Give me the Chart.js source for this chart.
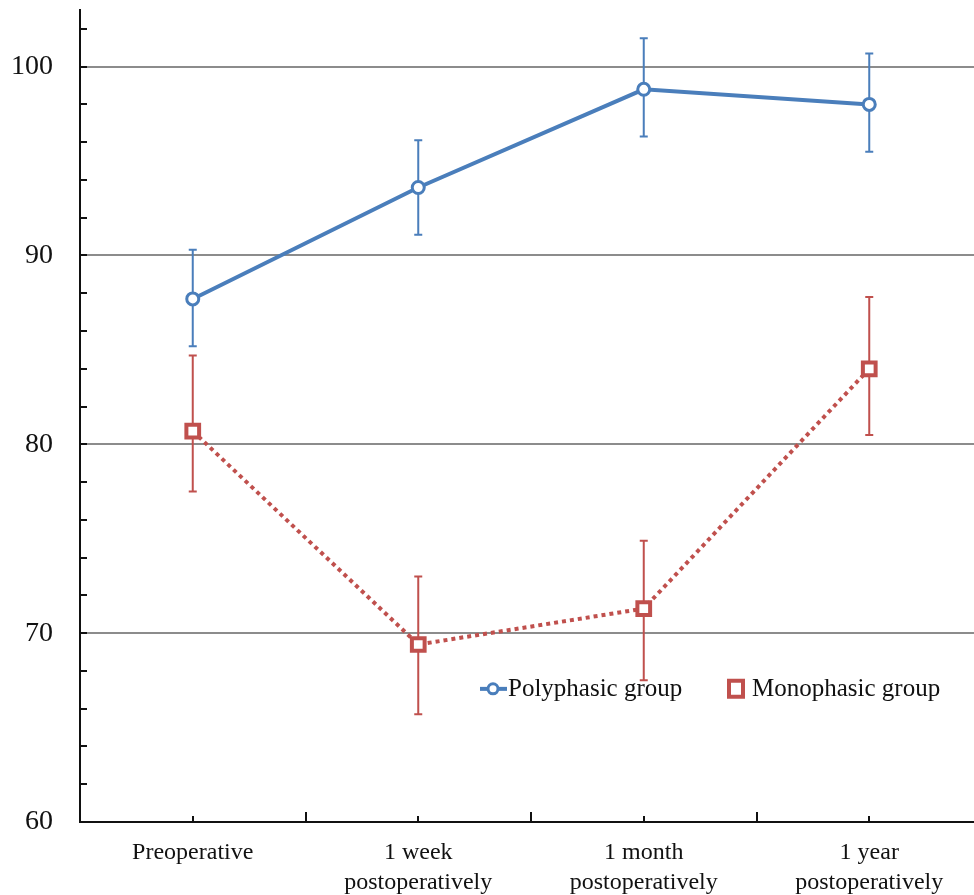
<!DOCTYPE html>
<html lang="en">
<head>
    <meta charset="UTF-8">
    <title>Polyphasic vs Monophasic group</title>
    <script src="https://cdn.jsdelivr.net/npm/chart.js"></script>
    <style>
        html, body { margin: 0; padding: 0; background: #fff; overflow: hidden; }
        #wrap { width: 995px; height: 898px; margin-top: -3px; }
    </style>
</head>
<body>
    <div id="wrap"><canvas id="chart" width="995" height="898"></canvas></div>
    <script>
        const categories = ['Preoperative', ['1 week', 'postoperatively'], ['1 month', 'postoperatively'], ['1 year', 'postoperatively']];
        const yTicks = [60, 70, 80, 90, 100];

        const polyValues = [87.7, 93.6, 98.8, 98.0];
        const polyLow = [85.2, 91.1, 96.3, 95.5];
        const polyHigh = [90.3, 96.1, 101.5, 100.7];

        const monoValues = [80.7, 69.4, 71.3, 84.0];
        const monoLow = [77.5, 65.7, 67.5, 80.5];
        const monoHigh = [84.7, 73.0, 74.9, 87.8];

        const blue = '#4a7ebb';
        const red = '#c0504d';
        const serif = "'Liberation Serif', 'DejaVu Serif', serif";

        // error bars, drawn under the markers
        const errorBars = {
            id: 'errorBars',
            beforeDatasetsDraw(chart) {
                const ctx = chart.ctx;
                const x = chart.scales.x, y = chart.scales.y;
                const sets = [[polyLow, polyHigh, blue], [monoLow, monoHigh, red]];
                ctx.save();
                ctx.lineWidth = 2;
                sets.forEach(([lo, hi, col]) => {
                    ctx.strokeStyle = col;
                    lo.forEach((v, i) => {
                        const px = x.getPixelForValue(i);
                        const y1 = y.getPixelForValue(v), y2 = y.getPixelForValue(hi[i]);
                        ctx.beginPath();
                        ctx.moveTo(px, y1); ctx.lineTo(px, y2);
                        ctx.moveTo(px - 4, y1); ctx.lineTo(px + 4, y1);
                        ctx.moveTo(px - 4, y2); ctx.lineTo(px + 4, y2);
                        ctx.stroke();
                    });
                });
                ctx.restore();
            }
        };

        // inner tick marks on both axes
        const innerTicks = {
            id: 'innerTicks',
            afterDatasetsDraw(chart) {
                const ctx = chart.ctx;
                const x = chart.scales.x, y = chart.scales.y;
                const area = chart.chartArea;
                ctx.save();
                ctx.strokeStyle = '#111';
                ctx.lineWidth = 2;
                ctx.beginPath();
                for (let v = 62; v <= 102; v += 2) {
                    const py = Math.round(y.getPixelForValue(v));
                    ctx.moveTo(area.left, py); ctx.lineTo(area.left + 7, py);
                }
                categories.forEach((c, i) => {
                    const px = Math.round(x.getPixelForValue(i));
                    ctx.moveTo(px, area.bottom); ctx.lineTo(px, area.bottom - 6);
                    if (i > 0) {
                        const bx = Math.round((x.getPixelForValue(i) + x.getPixelForValue(i - 1)) / 2);
                        ctx.moveTo(bx, area.bottom); ctx.lineTo(bx, area.bottom - 10);
                    }
                });
                ctx.stroke();
                ctx.restore();
            }
        };

        // legend inside the plot area
        const innerLegend = {
            id: 'innerLegend',
            afterDraw(chart) {
                const ctx = chart.ctx;
                const ly = chart.scales.y.getPixelForValue(67.05);
                ctx.save();
                ctx.font = '25px ' + serif;
                ctx.fillStyle = '#111';
                ctx.textBaseline = 'middle';
                // polyphasic
                ctx.strokeStyle = blue;
                ctx.lineWidth = 4;
                ctx.beginPath(); ctx.moveTo(480, ly); ctx.lineTo(507, ly); ctx.stroke();
                ctx.lineWidth = 3;
                ctx.fillStyle = '#fff';
                ctx.beginPath(); ctx.arc(493, ly, 5, 0, Math.PI * 2); ctx.fill(); ctx.stroke();
                ctx.fillStyle = '#111';
                ctx.fillText('Polyphasic group', 508, ly + 1);
                // monophasic
                ctx.strokeStyle = red;
                ctx.lineWidth = 4;
                ctx.fillStyle = '#fff';
                ctx.beginPath(); ctx.rect(729, ly - 8, 14, 16); ctx.fill(); ctx.stroke();
                ctx.fillStyle = '#111';
                ctx.fillText('Monophasic group', 752, ly + 1);
                ctx.restore();
            }
        };

        const ctx = document.getElementById('chart').getContext('2d');
        new Chart(ctx, {
            type: 'line',
            data: {
                labels: categories,
                datasets: [
                    {
                        label: 'Polyphasic group',
                        data: polyValues,
                        borderColor: blue,
                        borderWidth: 4,
                        pointRadius: 6,
                        pointBorderWidth: 3,
                        pointBackgroundColor: '#fff',
                        pointBorderColor: blue,
                        tension: 0
                    },
                    {
                        label: 'Monophasic group',
                        data: monoValues,
                        borderColor: red,
                        borderWidth: 4,
                        borderDash: [4, 4],
                        pointStyle: 'rect',
                        pointRadius: 9,
                        pointBorderWidth: 4,
                        pointBackgroundColor: '#fff',
                        pointBorderColor: red,
                        tension: 0
                    }
                ]
            },
            options: {
                responsive: false,
                animation: false,
                layout: { padding: { top: 6, right: 7, left: 0, bottom: 0 } },
                plugins: {
                    legend: { display: false },
                    tooltip: { enabled: false }
                },
                scales: {
                    x: {
                        offset: true,
                        grid: { display: false, drawTicks: false },
                        border: { display: true, color: '#111', width: 2 },
                        ticks: {
                            color: '#111',
                            padding: 16,
                            maxRotation: 0,
                            autoSkip: false,
                            font: { family: serif, size: 24, lineHeight: 1.25 }
                        },
                        afterFit(scale) {
                            scale.height = 73;
                            scale.paddingLeft = 0;
                            scale.paddingRight = 0;
                        }
                    },
                    y: {
                        min: 60,
                        max: 103,
                        afterBuildTicks(scale) { scale.ticks = yTicks.map(v => ({ value: v })); },
                        grid: {
                            drawTicks: false,
                            color: ctx => ctx.tick && ctx.tick.value === 60 ? 'rgba(0,0,0,0)' : '#8c8c8c',
                            lineWidth: 2
                        },
                        border: { display: true, color: '#111', width: 2 },
                        ticks: {
                            color: '#111',
                            padding: 27,
                            font: { family: serif, size: 28 }
                        },
                        afterFit(scale) {
                            scale.width = 80;
                            scale.paddingTop = 0;
                            scale.paddingBottom = 0;
                        }
                    }
                }
            },
            plugins: [errorBars, innerTicks, innerLegend]
        });
    </script>
</body>
</html>
